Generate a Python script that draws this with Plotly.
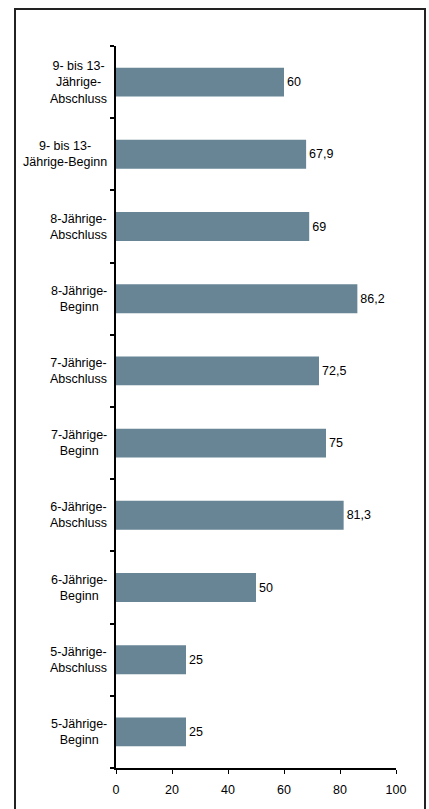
import plotly.graph_objects as go

# Categories listed bottom-to-top (Plotly draws the first category at the bottom)
categories = [
    "5-Jährige-Beginn",
    "5-Jährige-Abschluss",
    "6-Jährige-Beginn",
    "6-Jährige-Abschluss",
    "7-Jährige-Beginn",
    "7-Jährige-Abschluss",
    "8-Jährige-Beginn",
    "8-Jährige-Abschluss",
    "9- bis 13-Jährige-Beginn",
    "9- bis 13-Jährige-Abschluss",
]
category_labels = [
    "5-Jährige-<br>Beginn",
    "5-Jährige-<br>Abschluss",
    "6-Jährige-<br>Beginn",
    "6-Jährige-<br>Abschluss",
    "7-Jährige-<br>Beginn",
    "7-Jährige-<br>Abschluss",
    "8-Jährige-<br>Beginn",
    "8-Jährige-<br>Abschluss",
    "9- bis 13-<br>Jährige-Beginn",
    "9- bis 13-<br>Jährige-<br>Abschluss",
]
values = [25, 25, 50, 81.3, 75, 72.5, 86.2, 69, 67.9, 60]
x_ticks = [0, 20, 40, 60, 80, 100]

FONT = "Liberation Sans, Arial, sans-serif"
BAR_COLOR = "#678595"

value_text = [f"{v:g}".replace(".", ",") for v in values]

fig = go.Figure(
    go.Bar(
        x=values,
        y=categories,
        orientation="h",
        marker=dict(color=BAR_COLOR, line=dict(width=0)),
        text=value_text,
        textposition="outside",
        textfont=dict(family=FONT, size=12.5, color="black"),
        cliponaxis=False,
    )
)

# Category labels: block right-aligned next to the axis, lines centred
for cat, lab in zip(categories, category_labels):
    fig.add_annotation(
        x=-0.025, xref="paper", xanchor="right",
        y=cat, yref="y", yanchor="middle",
        text=lab, showarrow=False, align="center",
        font=dict(family=FONT, size=12.5, color="black"),
    )

# Outer frame around the whole chart
fig.add_shape(
    type="rect", xref="paper", yref="paper",
    x0=-0.3607, x1=1.1036, y0=-0.065, y1=1.0512,
    line=dict(color="#222222", width=2), fillcolor="rgba(0,0,0,0)",
    layer="below",
)

fig.update_layout(
    width=429, height=809,
    margin=dict(l=116, r=33, t=46, b=41, autoexpand=False),
    paper_bgcolor="white", plot_bgcolor="white",
    bargap=0.6,
    showlegend=False,
    font=dict(family=FONT, size=12, color="black"),
    xaxis=dict(
        range=[0, 100], tickvals=x_ticks,
        ticks="outside", ticklen=4, tickcolor="black", tickwidth=1,
        ticklabelstandoff=5,
        automargin=False,
        showline=True, linecolor="black", linewidth=1.5,
        showgrid=False, zeroline=False,
        tickfont=dict(family=FONT, size=12.5, color="black"),
        fixedrange=True,
    ),
    yaxis=dict(
        categoryorder="array", categoryarray=categories,
        tickson="boundaries", ticks="outside", ticklen=4,
        tickcolor="black", tickwidth=1.5,
        showticklabels=False,
        automargin=False,
        showline=True, linecolor="black", linewidth=1.5,
        showgrid=False, zeroline=False,
        fixedrange=True,
    ),
)

fig.write_html("out.html")
